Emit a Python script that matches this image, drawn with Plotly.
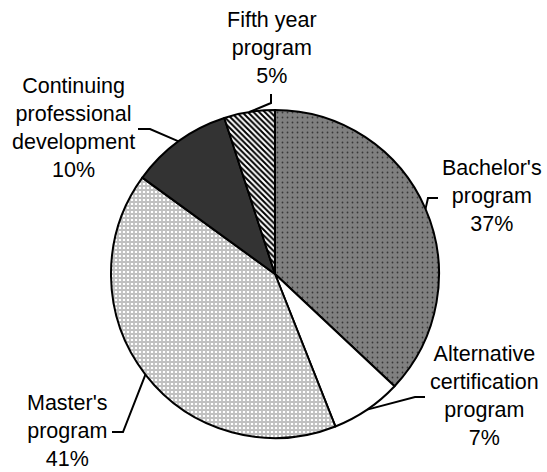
import math
import plotly.graph_objects as go

# ---- data ----
categories = ["Bachelor's program", "Alternative certification program", "Master's program",
              "Continuing professional development", "Fifth year program"]
values = [37, 7, 41, 10, 5]
label_texts = ["Bachelor's<br>program<br>37%",
               "Alternative<br>certification<br>program<br>7%",
               "Master's<br>program<br>41%",
               "Continuing<br>professional<br>development<br>10%",
               "Fifth year<br>program<br>5%"]

# ---- styling / layout ----
W, H = 547, 472
cx, cy, R = 275.0, 274.0, 164.0
bg_colors = ["#808080", "#ffffff", "#ffffff", "#333333", "#ffffff"]
fg_colors = ["#383838", "#ffffff", "#c0c0c0", "#333333", "#000000"]
shapes_pat = [".", "", "+", "", "\\"]
sizes_pat = [5, 4, 4, 4, 4]
solid_pat = [0.1, 0.3, 0.7, 0.3, 0.5]

# label anchor (center) positions in pixels, attachment and elbow points
label_pos = [(492, 195.5), (484, 396), (67, 430.5), (73, 128), (272, 47.5)]
attach_pts = [(438, 198), (425, 397), (112, 432), (138, 129), (271, 94)]
elbow_pts = [(428, 198), (415, 397), (123, 432), (150, 129), (271, 103)]

FONT = "Liberation Sans, Arial, sans-serif"
FS = 21.5

fig = go.Figure()

fig.add_trace(go.Pie(
    labels=categories, values=values, sort=False, direction="clockwise", rotation=0,
    textinfo="none", hoverinfo="label+percent", showlegend=False,
    domain=dict(x=[(cx - R) / W, (cx + R) / W], y=[1 - (cy + R) / H, 1 - (cy - R) / H]),
    marker=dict(colors=bg_colors, line=dict(color="#000000", width=2),
                pattern=dict(shape=shapes_pat, fgcolor=fg_colors, bgcolor=bg_colors,
                             size=sizes_pat, solidity=solid_pat, fillmode="replace")),
))

# leader lines, edge point computed from data
total = sum(values)
cum = 0
for i, v in enumerate(values):
    theta = 2 * math.pi * (cum + v / 2) / total
    cum += v
    ex = cx + R * math.sin(theta)
    ey = cy - R * math.cos(theta)
    xs = [attach_pts[i][0], elbow_pts[i][0], ex]
    ys = [attach_pts[i][1], elbow_pts[i][1], ey]
    fig.add_trace(go.Scatter(x=xs, y=ys, mode="lines", line=dict(color="#000000", width=2),
                             hoverinfo="skip", showlegend=False))

for i, t in enumerate(label_texts):
    fig.add_annotation(x=label_pos[i][0], y=label_pos[i][1], xref="x", yref="y",
                       text=t, showarrow=False, xanchor="center", yanchor="middle",
                       align="center", font=dict(family=FONT, size=FS, color="#000000"))

fig.update_layout(
    width=W, height=H, margin=dict(l=0, r=0, t=0, b=0),
    paper_bgcolor="#ffffff", plot_bgcolor="rgba(0,0,0,0)",
    xaxis=dict(range=[0, W], visible=False, fixedrange=True),
    yaxis=dict(range=[H, 0], visible=False, fixedrange=True),
)

fig.write_html("out.html", config={"displayModeBar": False},
               post_script="document.body.style.margin='0px';document.body.style.overflow='hidden';")
